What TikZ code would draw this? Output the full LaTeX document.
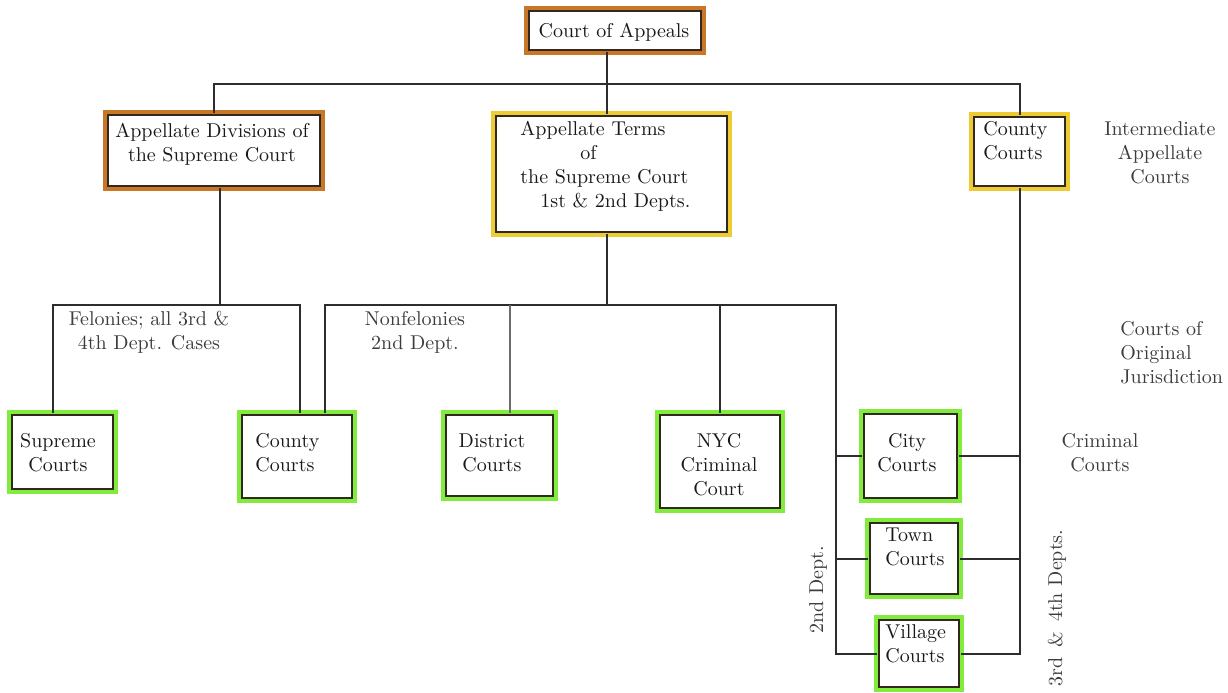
\documentclass[tikz,border=0pt]{standalone}
\usepackage{tikz}
\usetikzlibrary{calc}
\usetikzlibrary{positioning}

\definecolor{apporange}{RGB}{200,118,40}
\definecolor{termyellow}{RGB}{236,204,50}
\definecolor{lowgreen}{RGB}{130,236,60}
\definecolor{boxline}{RGB}{50,40,30}
\definecolor{linkcol}{RGB}{45,45,45}
\definecolor{notecol}{RGB}{60,60,60}

\tikzset{
    courtbox/.style={draw=#1, line width=3pt, outer sep=0pt, inner sep=0pt},
    innerframe/.style={draw=boxline, line width=0.8pt},
    boxsize/.style 2 args={minimum width=#1*0.5pt, minimum height=#2*0.5pt},
    boxtext/.style={inner sep=0pt, align=center, text=black!90, font=\fontsize{10}{12}\selectfont},
    sidenote/.style={inner sep=0pt, align=center, text=notecol, font=\fontsize{10}{12}\selectfont},
    link/.style={draw=linkcol, line width=1pt},
    thinlink/.style={draw=linkcol!70, line width=0.6pt}
}

\begin{document}
\begin{tikzpicture}[x=0.5pt, y=-0.5pt]
    \useasboundingbox (0,0) rectangle (1228,692);

    % boxes
    \node[courtbox=apporange, boxsize={176}{43}] (appeals) at (615,30.5) {};
    \node[courtbox=apporange, boxsize={216}{75}] (appdiv) at (214,150.5) {};
    \node[courtbox=termyellow, boxsize={235}{120}] (appterms) at (611.5,174) {};
    \node[courtbox=termyellow, boxsize={95}{73}] (countytop) at (1019.5,151.5) {};
    \node[courtbox=lowgreen, boxsize={105}{78}] (supreme) at (62.5,452) {};
    \node[courtbox=lowgreen, boxsize={114}{87}] (countylow) at (297,456.5) {};
    \node[courtbox=lowgreen, boxsize={111}{85}] (district) at (499.5,455.5) {};
    \node[courtbox=lowgreen, boxsize={124}{97}] (nyc) at (720,461.5) {};
    \node[courtbox=lowgreen, boxsize={97}{88}] (city) at (910.5,456) {};
    \node[courtbox=lowgreen, boxsize={92}{75}] (town) at (914,558.5) {};
    \node[courtbox=lowgreen, boxsize={84}{71}] (village) at (919,653.5) {};

    % dark inner edge of every frame
    \foreach \b in {appeals,appdiv,appterms,countytop,supreme,countylow,district,nyc,city,town,village}
        \draw[innerframe] ($(\b.north west)+(1.1pt,-1.1pt)$) rectangle ($(\b.south east)+(-1.1pt,1.1pt)$);

    % box texts
    \node[boxtext, anchor=north] (appealsT) at (614,23) {Court of Appeals};
    \node[boxtext, anchor=north] (appdivT) at (212,123) {Appellate Divisions of\\the Supreme Court};
    \node[boxtext, anchor=north west, align=left] (apptermsT) at (520,121)
        {Appellate Terms\\\hspace*{30pt}of\\the Supreme Court\\\hspace*{10pt}1st \& 2nd Depts.};
    \node[boxtext, anchor=north west, align=left] (countytopT) at (983,121) {County\\Courts};
    \node[boxtext, anchor=north] (supremeT) at (58,433) {Supreme\\Courts};
    \node[boxtext, anchor=north west, align=left] (countylowT) at (255,433) {County\\Courts};
    \node[boxtext, anchor=north] (districtT) at (492,433) {District\\Courts};
    \node[boxtext, anchor=north] (nycT) at (719,433) {NYC\\Criminal\\Court};
    \node[boxtext, anchor=north] (cityT) at (907,433) {City\\Courts};
    \node[boxtext, anchor=north west, align=left] (townT) at (885,528) {Town\\Courts};
    \node[boxtext, anchor=north west, align=left] (villageT) at (885,624) {Village\\Courts};

    % side notes
    \node[sidenote, anchor=north] (interN) at (1160,121) {Intermediate\\Appellate\\Courts};
    \node[sidenote, anchor=north west, align=left] (origN) at (1120,321) {Courts of\\Original\\Jurisdiction};
    \node[sidenote, anchor=north] (crimN) at (1100,433) {Criminal\\Courts};
    \node[sidenote, anchor=north] (felN) at (149,311) {Felonies; all 3rd \&\\4th Dept. Cases};
    \node[sidenote, anchor=north] (nonfelN) at (415,311) {Nonfelonies\\2nd Dept.};
    \node[sidenote, rotate=90] (dept2N) at (818,590) {2nd Dept.};
    \node[sidenote, rotate=90] (dept34N) at (1057,608) {3rd\enspace\&\enspace4th Depts.};

    % junctions
    \coordinate (busA) at (607,84);
    \coordinate (busB) at (220,305);
    \coordinate (busC) at (607,305);
    \coordinate (felL) at (53,305);
    \coordinate (felR) at (300,305);
    \coordinate (nonL) at (325,305);
    \coordinate (distJ) at (510,305);
    \coordinate (leftbus) at (836,305);

    % connectors
    \draw[link] (appeals.south -| busA) -- (busA);
    \draw[link] (appdiv.north) |- (busA) -| (countytop.north);
    \draw[link] (busA) -- (appterms.north -| busA);

    \draw[link] (appdiv.south -| busB) -- (busB);
    \draw[link] (supreme.north -| felL) -- (felL) -- (felR) -- (countylow.north -| felR);

    \draw[link] (appterms.south -| busC) -- (busC);
    \draw[link] (countylow.north -| nonL) -- (nonL) -- (leftbus) |- (village.west);
    \draw[thinlink] (district.north -| distJ) -- (distJ);
    \draw[link] (nyc.north) -- (nyc.north |- busC);
    \draw[link] (city.west) -- (city.west -| leftbus);
    \draw[link] (town.west) -- (town.west -| leftbus);

    \draw[link] (countytop.south) |- (village.east);
    \draw[link] (city.east) -- (city.east -| countytop.south);
    \draw[link] (town.east) -- (town.east -| countytop.south);
\end{tikzpicture}
\end{document}
